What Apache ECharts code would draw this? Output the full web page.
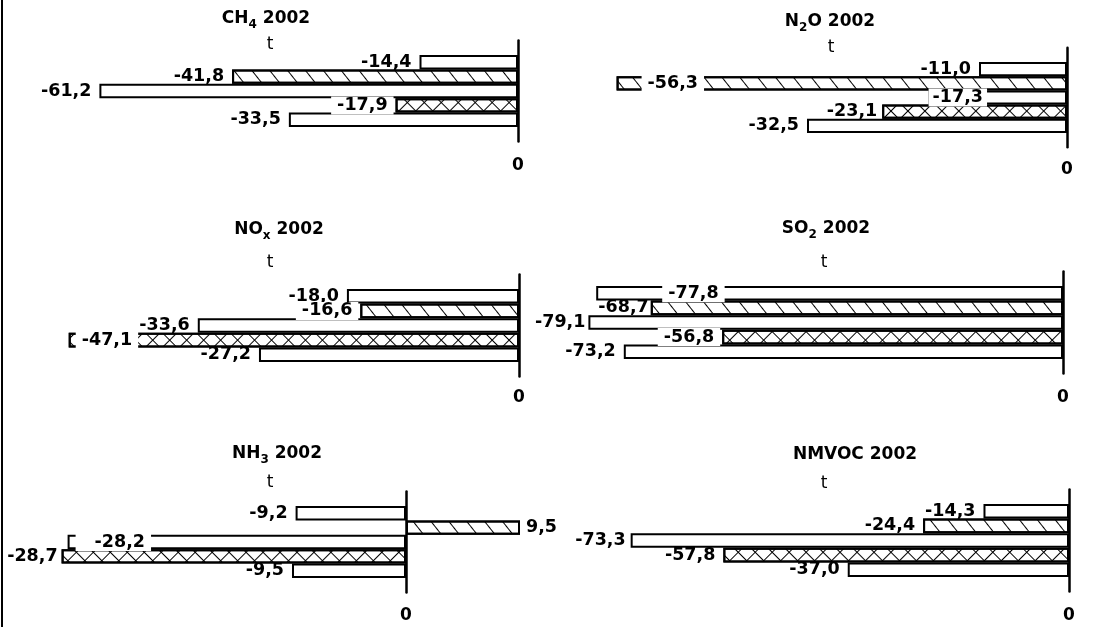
<!DOCTYPE html>
<html>
<head>
<meta charset="utf-8">
<script src="https://cdn.jsdelivr.net/npm/echarts@6/dist/echarts.min.js"></script>
<style>html,body{margin:0;padding:0;background:#fff}#c{width:1112px;height:627px}</style>
</head>
<body>
<div id="c"></div>
<script>
// ---- data ----
const rowKeys = ['row1', 'row2', 'row3', 'row4', 'row5'];
const ch4   = [-14.4, -41.8, -61.2, -17.9, -33.5];
const n2o   = [-11.0, -56.3, -17.3, -23.1, -32.5];
const nox   = [-18.0, -16.6, -33.6, -47.1, -27.2];
const so2   = [-77.8, -68.7, -79.1, -56.8, -73.2];
const nh3   = [-9.2, 9.5, -28.2, -28.7, -9.5];
const nmvoc = [-14.3, -24.4, -73.3, -57.8, -37.0];
const zeroTick = ['0'];

// ---- styles / layout ----
const FONT = 'DejaVu Sans';
const hatch = {symbol: 'rect', symbolSize: 1, symbolKeepAspect: false, color: '#000',
  dashArrayX: [1, 0], dashArrayY: [1, 13], rotation: 0.9};
const cross = {symbol: 'rect', symbolSize: 1, symbolKeepAspect: false, color: '#000',
  dashArrayX: [[1, 0], [1, 11]], dashArrayY: [1, 0, 11, 0], rotation: Math.PI / 4};
const fillByRow = [null, hatch, null, cross, null];

const panels = [
  {values: ch4, title: ['CH', '4', ' 2002'], tx: 266, ty: 7, ux: 270, uy: 35,
   zero: 518, ppu: 6.84, min: -70, max: 0, interval: 70, barTop: 55, band: 14.4, labelY: 166,
   lab: {3: {bg: true}}},
  {values: n2o, title: ['N', '2', 'O 2002'], tx: 830, ty: 9.5, ux: 831, uy: 37.5,
   zero: 1067, ppu: 8.0, min: -60, max: 0, interval: 60, barTop: 62, band: 14.2, labelY: 170,
   lab: {1: {pos: 'insideLeft', dist: 25, bg: true}, 2: {pos: 'insideLeft', dist: 0, bg: true, pad: [0, 4]}, 3: {dist: 5}}},
  {values: nox, title: ['NO', 'x', ' 2002'], tx: 279, ty: 218, ux: 270, uy: 253,
   zero: 519, ppu: 9.56, min: -50, max: 0, interval: 50, barTop: 289, band: 14.6, labelY: 398,
   lab: {1: {bg: true}, 3: {pos: 'insideLeft', dist: 7, bg: true}}},
  {values: so2, title: ['SO', '2', ' 2002'], tx: 826, ty: 216.5, ux: 824, uy: 253,
   zero: 1063, ppu: 6.0, min: -80, max: 0, interval: 80, barTop: 286, band: 14.6, labelY: 398,
   lab: {0: {pos: 'insideLeft', dist: 66, bg: true}, 1: {dist: 2}, 2: {dist: 3}, 3: {bg: true}}},
  {values: nh3, title: ['NH', '3', ' 2002'], tx: 277, ty: 441.5, ux: 270, uy: 472.5,
   zero: 406, ppu: 12.0, min: -30, max: 10, interval: 10, barTop: 506, band: 14.4, labelY: 616,
   lab: {1: {pos: 'right', dist: 6}, 2: {pos: 'insideLeft', dist: 8, bg: true, pad: [0, 6, 0, 19]}, 3: {dist: 4}}},
  {values: nmvoc, title: ['NMVOC', '', ' 2002'], tx: 855, ty: 443, ux: 824, uy: 474,
   zero: 1069, ppu: 5.98, min: -80, max: 0, interval: 80, barTop: 504, band: 14.6, labelY: 616,
   lab: {2: {dist: 5}}}
];

const fmt = v => Number(v).toFixed(1).replace('.', ',');
const richTitle = {
  b: {fontFamily: FONT, fontWeight: 'bold', fontSize: 17, lineHeight: 24, color: '#000'},
  s: {fontFamily: FONT, fontWeight: 'bold', fontSize: 12, lineHeight: 12, verticalAlign: 'bottom', color: '#000'}
};

const grids = [], xAxes = [], yAxes = [], series = [], titles = [];
panels.forEach((p, i) => {
  const left = p.zero + p.min * p.ppu;
  const width = (p.max - p.min) * p.ppu;
  const top = p.barTop - p.band;
  const height = 7 * p.band;
  grids.push({left, top, width, height});
  xAxes.push({
    type: 'value', gridIndex: i, min: p.min, max: p.max, interval: p.interval,
    axisLine: {show: false}, axisTick: {show: false}, splitLine: {show: false},
    axisLabel: {margin: p.labelY - 10 - (top + height), showMinLabel: true, showMaxLabel: true,
      formatter: v => (v === 0 ? zeroTick[0] : ''),
      fontFamily: FONT, fontWeight: 'bold', fontSize: 17, lineHeight: 20, color: '#000'}
  });
  yAxes.push({
    type: 'category', gridIndex: i, inverse: true, data: ['padTop', ...rowKeys, 'padBottom'],
    axisLine: {show: true, onZero: true, lineStyle: {color: '#000', width: 2.5}},
    axisTick: {show: false}, axisLabel: {show: false}, splitLine: {show: false}
  });
  const data = ['-'];
  p.values.forEach((v, k) => {
    const o = p.lab[k] || {};
    const bg = !!o.bg;
    const pad = o.pad || (bg ? [0, 6] : [0, 0]);
    const pos = o.pos || 'left';
    let dist = (o.dist !== undefined) ? o.dist : 8;
    if (bg && pos === 'left') dist -= pad[1];
    const item = {value: v, label: {position: pos, distance: dist, padding: pad,
      backgroundColor: bg ? '#fff' : 'transparent'}};
    if (fillByRow[k]) item.itemStyle = {decal: fillByRow[k]};
    data.push(item);
  });
  data.push('-');
  series.push({
    type: 'bar', xAxisIndex: i, yAxisIndex: i, data, barCategoryGap: 0, silent: true,
    itemStyle: {color: '#fff', borderColor: '#000', borderWidth: 2},
    label: {show: true, formatter: d => fmt(d.value), fontFamily: FONT, fontWeight: 'bold',
      fontSize: 17.5, lineHeight: 18, color: '#000'}
  });
  const t = p.title;
  const text = t[1] ? `{b|${t[0]}}{s|${t[1]}}{b|${t[2]}}` : `{b|${t[0]}${t[2]}}`;
  titles.push({text, left: p.tx, top: p.ty, textAlign: 'center', textVerticalAlign: 'top', padding: 0,
    textStyle: {rich: richTitle}});
  titles.push({text: 't', left: p.ux, top: p.uy, textAlign: 'center', textVerticalAlign: 'top', padding: 0,
    textStyle: {fontFamily: FONT, fontWeight: 'normal', fontSize: 17, lineHeight: 20, color: '#000'}});
});

const chart = echarts.init(document.getElementById('c'));
chart.setOption({
  animation: false,
  backgroundColor: '#fff',
  title: titles,
  grid: grids,
  xAxis: xAxes,
  yAxis: yAxes,
  series,
  graphic: [{type: 'line', shape: {x1: 2, y1: 0, x2: 2, y2: 627}, style: {stroke: '#000', lineWidth: 2}}]
});
</script>
</body>
</html>
